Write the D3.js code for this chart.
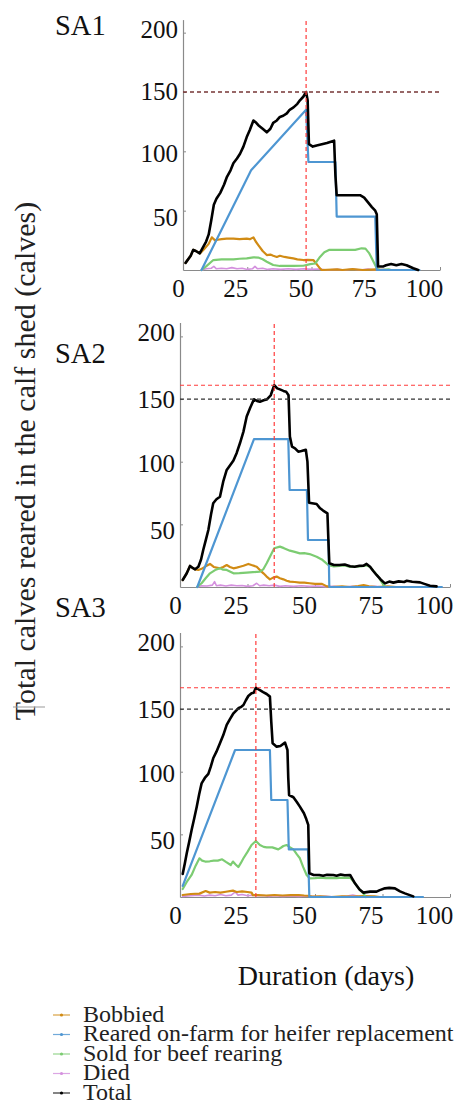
<!DOCTYPE html>
<html>
<head>
<meta charset="utf-8">
<script src="https://cdn.jsdelivr.net/npm/d3@7"></script>
<style>
  html, body { margin: 0; padding: 0; background: #fff; }
  svg { display: block; }
  svg text { font-family: "Liberation Serif", "Times New Roman", serif; }
</style>
</head>
<body>
<svg id="chart" width="473" height="1102"></svg>
<script>
// ---- data -------------------------------------------------------------
const scenarios = ["SA1", "SA2", "SA3"];
const seriesNames = ["Bobbied", "Reared on-farm for heifer replacement",
  "Sold for beef rearing", "Died", "Total"];
const dayTicks = [0, 25, 50, 75, 100];
const calfTicks = [50, 100, 150, 200];
const shedCapacity = 150;

// each series: [day, calves]
const sa1Bobbied = [[1,6],[3,12],[4,17],[5,16],[6.6,14],[8,17],[10,22],[11.2,27.5],[12.5,25],[13.5,25.5],[15,26],[17,26.5],[19.6,26.5],[22,26],[24.8,26.5],[26,26],[27.4,27.5],[28.3,24],[29.3,21],[31,16],[32.6,12.6],[34,13],[35.1,12],[36.5,11],[37.7,12],[39.5,11],[41,10.5],[42.9,9.8],[44.5,9],[46.8,8.4],[48.5,8.5],[50.7,8.4],[52,5],[53.3,1.4],[54,0],[60,0.5],[62,0],[66,0.8],[70,0],[75,0.5],[78,0]];
const sa1Replacement = [[7.2,0],[26.5,84],[47.9,135],[48.8,91],[59.3,91],[59.8,45],[74.8,45],[75.4,0],[92,0]];
const sa1Beef = [[7.2,0],[9,3],[11.8,8.4],[15,9],[19.6,9],[22,9.5],[24.8,9.8],[27.4,10.7],[29.3,10.5],[31,9],[32.6,7],[35.1,4.2],[37.7,3.4],[42.9,3.4],[46.8,3.6],[49.5,5],[51.5,5.5],[53.3,11],[55,15],[56.8,16.9],[62,17],[67,17],[69.5,18.3],[71,18],[72.5,14],[75.4,1.4],[76.5,0],[80,0.5],[81,0]];
const sa1Died = [[7.2,0],[9,1],[11,1.5],[12,3],[13,1],[15,1.5],[17,1],[19,2],[21,1],[23,1.5],[25,0.5],[27,1],[28,3],[29,1],[31,1.5],[33,0.5],[35,1],[38,0.5],[41,1],[44,0.5],[47,1],[50,0.5],[53,0.8],[56,0],[60,0.5],[63,0],[66,0.8],[69,0],[72,0.8],[75,0],[78,0.5],[80,0]];
const sa1Total = [[1,6],[3,12],[4,17],[5,16],[6.5,14],[7.5,18],[9,24],[10,30],[11,42],[12,55],[13,60],[14.5,65],[16,72],[17,78],[18.5,84],[19.6,90],[21,94],[22.2,98],[23.5,104],[24.8,112],[26,118],[27.4,126],[28.5,124],[29.3,122],[31,119],[32.6,116],[34,119],[35.1,124],[36.5,126],[37.7,129],[39,130],[40.4,132],[41.5,135],[43,137],[44.5,140],[45.5,143],[46.8,146],[47.9,150],[48.5,143],[49,106],[50.5,104],[52,105],[54,106],[56,107],[58.8,109],[59.3,80],[59.8,63],[62,63],[65,63],[68.9,63],[70.5,61],[72,57],[73.5,53],[74.8,50],[75.4,47],[75.9,3],[78,3],[79,4],[81,5],[83,4],[85,5],[87,4],[89.6,1.5],[91.5,0]];

const sa2Bobbied = [[1,5.6],[2.5,11],[3.7,16.8],[4.5,15.5],[5.6,14.1],[6.8,13.6],[8,14.5],[9.5,16.5],[11.1,18.4],[12.5,16],[14.8,14.9],[16,16],[17.3,17.5],[18.5,16],[19.8,14.9],[21,15.5],[22.2,16.2],[23.5,17],[25.3,18.4],[26.5,17.5],[28.4,16.2],[29.6,13.5],[30.9,10.9],[32,8.5],[33.3,6.1],[34.5,7.5],[35.8,8.3],[37,7],[38.3,6.1],[39.5,5],[40.7,4.3],[42.5,4],[44.4,3.5],[46,3.5],[48,3],[50,2.5],[52.6,2.5],[54.4,0.5],[56,0],[60,0.5],[63,0],[66,0.8],[68,1.6],[70,0.5],[73,0],[77,0.5],[80,0]];
const sa2Replacement = [[6.4,0],[27.4,118],[40.1,118],[40.6,77.4],[47.0,77.4],[47.4,37.5],[55,37.5],[55.3,0],[97,0]];
const sa2Beef = [[6.3,0],[8,3],[9.5,7],[11.1,10.9],[13,13.5],[14.8,14.9],[16,13.8],[17.3,13.6],[19.8,10.9],[22,11],[24.7,11.4],[27,11.8],[29.6,12.2],[30.8,14],[32.1,18.9],[33.5,25],[34.9,30.9],[37,32.2],[38.5,31],[40.7,29],[42.5,28],[44.4,26.8],[46,27],[48,26.3],[50.6,24.2],[52.5,22],[55,17.5],[57,16.5],[59,16.8],[61,17.2],[63,16],[65,16.3],[67,16.5],[69.1,17.3],[70.4,16],[72,12],[73.5,8],[75.3,1.9],[76,0]];
const sa2Died = [[6.3,0],[8,1],[10,0.8],[12,1.5],[12.8,4.3],[13.5,1],[15,1.5],[17,0.8],[19,1.5],[21,1],[23,1.2],[25,0.5],[27,1],[28.4,3],[29.5,1],[31,1.5],[33,1],[35,1.5],[37,0.5],[39,1],[42,0.5],[45,1],[48,0.5],[51,0.8],[54,0.3],[57,0.5],[60,0],[64,0.5],[68,0],[72,0.5],[76,0]];
const sa2Total = [[1,5.6],[2.5,11],[3.7,16.8],[4.5,15.5],[5.6,14.1],[6.8,16.2],[7.8,22],[8.6,29.5],[9.5,37],[10.5,45.5],[11.5,58],[12.3,66.8],[13.5,70],[14.8,72],[16,84],[17.3,93.4],[18.5,97],[19.8,101],[21,107],[22.2,114.7],[23.5,124],[24.7,136],[26,143],[27.4,149.8],[28.5,148.5],[29.6,147.9],[31,149],[32.1,149.6],[33.6,153],[34.9,161],[36,158.5],[37,157.7],[38.3,156.5],[39.3,155.9],[40.2,153],[40.7,120],[41.5,112],[42.6,110.7],[43.8,108],[45,108.5],[46.6,109.5],[47.2,100],[47.8,67.3],[50.6,66.2],[51.9,62.8],[53,61],[54.6,58.8],[55,35],[55.3,18.9],[57,17.5],[59,17.5],[61,18],[63,16.5],[64.7,16.2],[66.5,17],[68,17],[69.1,18.4],[70.4,16.2],[71.5,13],[72.8,9.6],[74.3,6],[75.9,2.9],[77.5,4.3],[79,3.5],[81,4.5],[83,4],[84,5],[86,4.2],[88.9,3.7],[90.5,2.5],[92.6,1],[95,0.5]];

const sa3Bobbied = [[1,1.6],[4,2.4],[7.2,2.7],[9.5,4.8],[11,3.5],[13,4],[15,3.5],[17,4.2],[19.6,5.1],[21,4],[23,4.5],[25,4],[26.5,3.5],[27,1.5],[29,1.5],[32,1.2],[35,1.6],[38,1.2],[41,1.5],[44,1.6],[46,1.2],[47.5,1],[49,0.3],[52,0.5],[56,0],[60,0.5],[64,0.3],[68,0.8],[72,0.5],[74,0]];
const sa3Replacement = [[1,8.8],[20.4,117.3],[33.3,117.3],[33.8,77.4],[39.8,77.4],[40.3,38],[47.4,38],[47.9,0],[90,0]];
const sa3Beef = [[1,6.4],[2.5,12],[4.3,17.6],[5.8,25],[7.2,30.9],[8.2,29],[9.3,28.3],[11,28.5],[12.5,29],[14,29],[15.6,30.1],[17,28],[18.8,25.5],[19.6,28.3],[20.6,26],[21.6,23.9],[22.5,27],[23.5,30.9],[25,36],[26.5,41.5],[28.1,44.7],[29.6,41.5],[31,40],[32.1,39.6],[34.2,39.6],[36.4,38],[37.5,39.5],[38.3,40.7],[39.5,41.5],[40.5,40],[42,38],[43.3,34],[44.4,30.9],[45.6,24],[46.9,17.6],[48,14.9],[50,15],[52,15.5],[54,15],[56,15.3],[58,15],[60,15.5],[62,15.2],[63,15.5],[64.8,10.9],[66.5,6],[67.9,2.9],[68.8,0]];
const sa3Died = [[1,0.5],[4,1],[7,1.5],[9,0.8],[11,1.5],[13,1],[15,2],[17,1],[19,1.5],[20.5,4],[21.5,1.5],[23,2],[25,1],[27,1.5],[29,1],[31,1.2],[33,0.5],[35,1],[38,0.5],[41,0.8],[44,0.5],[47,0.8],[50,0.3],[54,0.5],[58,0],[62,0.8],[64,1.5],[66,0.5],[70,0]];
const sa3Total = [[1,18.4],[1.8,27],[2.5,34.9],[3.4,44],[4.3,53.5],[5.3,63],[6.2,72.1],[7.1,82],[8,90.7],[9.2,95],[10.5,98.2],[11.4,104],[12.3,110.7],[13.5,116],[14.8,122.7],[16,129],[17.3,137.3],[18.5,142],[19.8,146.6],[21.6,150.6],[22.5,151.5],[23.5,153.2],[24.4,157],[25.3,160.4],[26.5,162.6],[27.3,163],[28.1,167],[29.6,165],[30.8,163.5],[32.1,162],[33.3,159.9],[33.8,140],[34.3,122.7],[35.8,120],[37.2,120.5],[38.9,123.2],[39.8,117.3],[40.1,95],[40.4,81.4],[42,79.6],[43.2,76],[44.4,72.1],[45.9,66.8],[46.8,62],[47.5,57.5],[47.9,18.9],[49.5,17.6],[51.6,17.6],[53,17],[54.5,17.8],[56.8,17.6],[58,17],[59.5,18],[61,17.3],[63,17.6],[64.8,10.9],[66.5,6],[67.9,3.5],[70.4,4.3],[72.8,4.3],[74,5.5],[75.9,6.9],[77.5,7.3],[79.6,6.9],[81.5,4.5],[83.3,2.9],[86.4,0.5]];

// ---- styling / layout ----------------------------------------------------
const serif = "\"Liberation Serif\", \"Times New Roman\", serif";
const seriesColors = ["#d18b14", "#4e96d2", "#7ccc72", "#d490de", "#000000"];
const seriesWidths = [2.2, 2.2, 2.2, 1.6, 2.6];
const drawOrder = [3, 0, 2, 1, 4]; // Died, Bobbied, Beef, Replacement, Total

const panelData = [
  [sa1Bobbied, sa1Replacement, sa1Beef, sa1Died, sa1Total],
  [sa2Bobbied, sa2Replacement, sa2Beef, sa2Died, sa2Total],
  [sa3Bobbied, sa3Replacement, sa3Beef, sa3Died, sa3Total]
];
const panelFrames = [
  { x0: 183, x1: 440, yBottom: 270, yTop: 19.6, labelY: 35 },
  { x0: 180, x1: 450, yBottom: 587, yTop: 322.6, labelY: 363 },
  { x0: 180, x1: 450, yBottom: 897, yTop: 632.6, labelY: 617 }
];
const yLabelShift = { 50: 6.5, 100: 2.2, 150: 0, 200: -3.5 };
const xLabelShift = { 0: -5, 25: -12, 50: -11, 75: -12, 100: -16 };

const svg = d3.select("#chart");

scenarios.forEach((name, i) => {
  const f = panelFrames[i];
  const data = panelData[i];
  const x = d3.scaleLinear().domain([0, 100]).range([f.x0, f.x1]);
  const y = d3.scaleLinear().domain([0, 211]).range([f.yBottom, f.yTop]);
  const g = svg.append("g").attr("class", "panel");

  // axes
  const yAxis = d3.axisLeft(y).tickValues(calfTicks).tickSizeInner(-3)
    .tickSizeOuter(0).tickPadding(5);
  const gy = g.append("g").attr("transform", `translate(${f.x0},0)`).call(yAxis)
    .attr("font-family", serif).attr("font-size", 25);
  gy.select(".domain").attr("stroke", "#8a8a8a").attr("stroke-width", 1.2);
  gy.selectAll(".tick line").attr("stroke", "#8a8a8a");
  gy.selectAll(".tick text")
    .style("font-family", serif).style("font-size", "25px")
    .attr("fill", "#111")
    .attr("y", d => yLabelShift[d]);

  const xAxis = d3.axisBottom(x).tickValues(dayTicks).tickSizeInner(-3)
    .tickSizeOuter(0).tickPadding(9);
  const gx = g.append("g").attr("transform", `translate(0,${f.yBottom})`).call(xAxis)
    .attr("font-family", serif).attr("font-size", 25);
  gx.select(".domain").attr("stroke", "#8a8a8a").attr("stroke-width", 1.2);
  gx.selectAll(".tick line").attr("stroke", "#8a8a8a");
  gx.selectAll(".tick text")
    .style("font-family", serif).style("font-size", "25px")
    .attr("fill", "#111")
    .attr("dx", d => xLabelShift[d]);

  // series lines
  const line = d3.line().x(d => x(d[0])).y(d => y(d[1]));
  drawOrder.forEach(k => {
    g.append("path")
      .datum(data[k])
      .attr("d", line)
      .attr("fill", "none")
      .attr("stroke", seriesColors[k])
      .attr("stroke-width", seriesWidths[k])
      .attr("stroke-linejoin", "round")
      .attr("stroke-linecap", "round");
  });

  // peak markers and capacity line
  const total = data[4];
  const peak = d3.greatest(total, d => d[1]);
  g.append("line")
    .attr("x1", f.x0).attr("x2", f.x1)
    .attr("y1", y(peak[1])).attr("y2", y(peak[1]))
    .attr("stroke", "#ff3b3b").attr("stroke-width", 1.2)
    .attr("stroke-dasharray", "4,3");
  g.append("line")
    .attr("x1", f.x0).attr("x2", f.x1)
    .attr("y1", y(shedCapacity)).attr("y2", y(shedCapacity))
    .attr("stroke", "#333").attr("stroke-width", 1.2)
    .attr("stroke-dasharray", "4,3");
  g.append("line")
    .attr("x1", x(peak[0])).attr("x2", x(peak[0]))
    .attr("y1", y(0)).attr("y2", y(211))
    .attr("stroke", "#ff3b3b").attr("stroke-width", 1.2)
    .attr("stroke-dasharray", "4,3");

  // scenario label
  svg.append("text")
    .attr("x", 55).attr("y", f.labelY)
    .style("font-family", serif).style("font-size", "28.5px")
    .attr("fill", "#111")
    .text(name);
});

// axis titles
svg.append("text")
  .attr("transform", "translate(35,461) rotate(-90)")
  .attr("text-anchor", "middle")
  .style("font-family", serif).style("font-size", "30px")
  .attr("fill", "#222")
  .text("Total calves reared in the calf shed (calves)");

svg.append("line")
  .attr("x1", 13).attr("x2", 45).attr("y1", 707).attr("y2", 707)
  .attr("stroke", "#999").attr("stroke-width", 1);

svg.append("text")
  .attr("x", 326).attr("y", 985)
  .attr("text-anchor", "middle")
  .style("font-family", serif).style("font-size", "28px")
  .attr("fill", "#111")
  .text("Duration (days)");

// legend
const legendY = d3.scalePoint().domain(seriesNames).range([1015, 1093]);
const legend = svg.append("g").attr("class", "legend");
seriesNames.forEach((s, k) => {
  const cy = legendY(s);
  legend.append("line")
    .attr("x1", 53).attr("x2", 70).attr("y1", cy).attr("y2", cy)
    .attr("stroke", seriesColors[k]).attr("stroke-width", 1.2)
    .attr("opacity", 0.8);
  legend.append("circle")
    .attr("cx", 61.5).attr("cy", cy).attr("r", 1.6)
    .attr("fill", seriesColors[k]);
  legend.append("text")
    .attr("x", 83).attr("y", cy + 6.5)
    .style("font-family", serif).style("font-size", "24px")
    .attr("fill", "#222")
    .text(s);
});
</script>
</body>
</html>
